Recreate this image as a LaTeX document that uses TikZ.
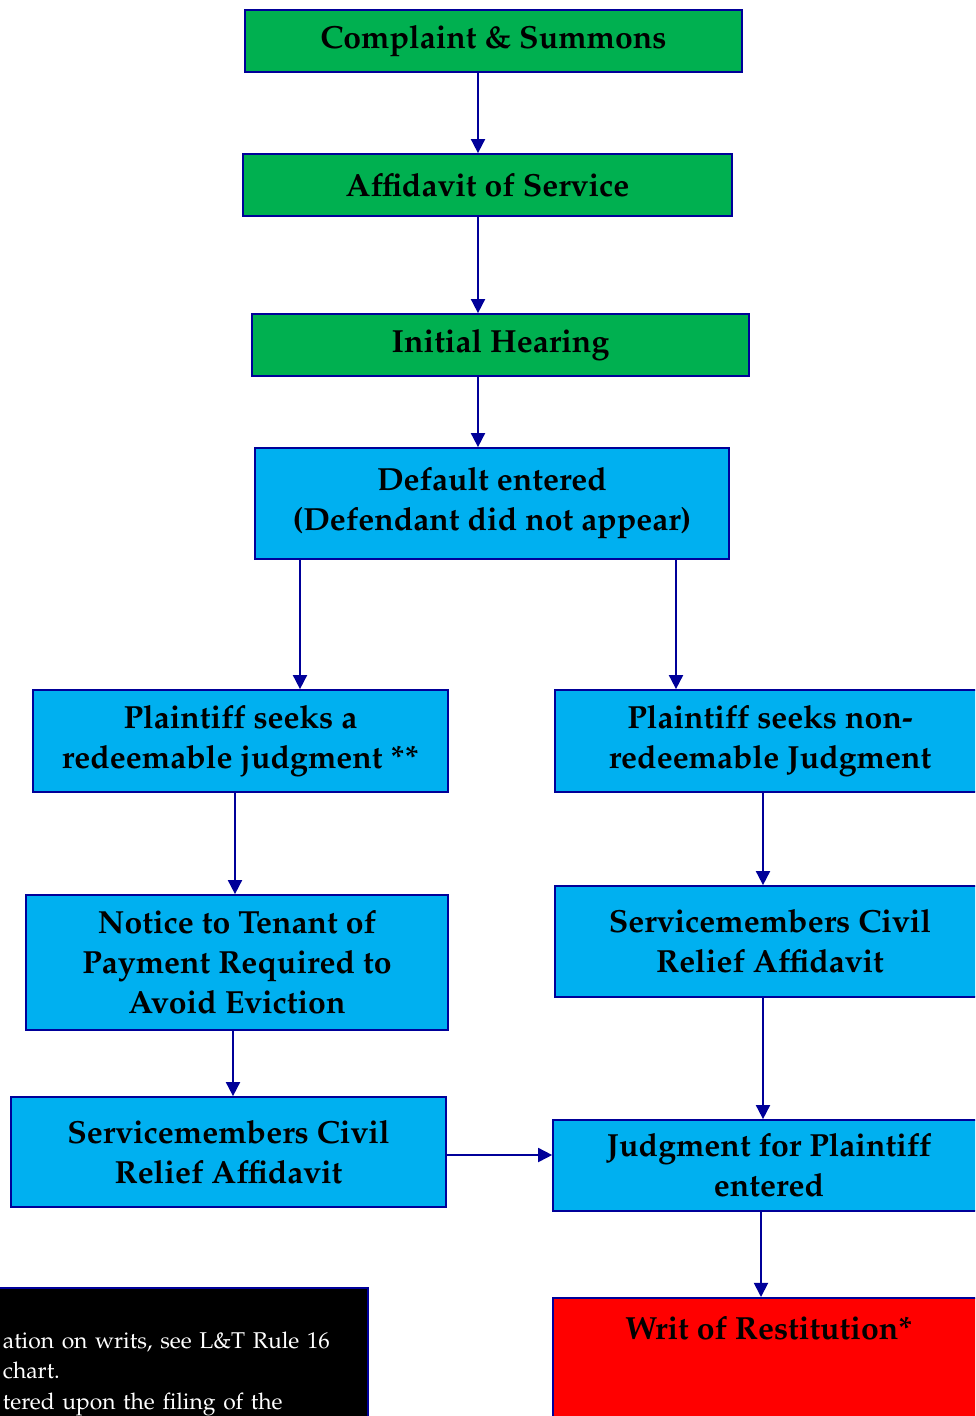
\documentclass[tikz,border=0pt]{standalone}
\usepackage[T1]{fontenc}
\usepackage{mathpazo}
\usepackage{xcolor}
\usetikzlibrary{arrows.meta}

\definecolor{traitbleu}{RGB}{0,0,153}
\definecolor{etapevert}{RGB}{0,176,80}
\definecolor{etapebleu}{RGB}{0,176,240}
\definecolor{etaperouge}{RGB}{255,0,0}

\begin{document}
\begin{tikzpicture}[x=0.02cm,y=-0.02cm]

\tikzset{
    box/.style = {
    draw=traitbleu,
    line width=1pt,
    align=center,
    inner sep=0pt,
    font=\fontsize{18.2}{22.8}\selectfont\bfseries
    }
}

\tikzstyle{vert}=[box, fill=etapevert]
\tikzstyle{bleu}=[box, fill=etapebleu]
\tikzstyle{rouge}=[box, fill=etaperouge]
\tikzstyle{fleche}=[traitbleu, line width=1pt, -{Triangle[length=8pt, width=8pt]}]

\useasboundingbox (0,0) rectangle (975,1416);
\clip (0,0) rectangle (975,1416);

% etapes communes
\node (cs) [vert, minimum width=9.94cm, minimum height=1.24cm] at (493.5,41) {Complaint \& Summons};
\node (as) [vert, minimum width=9.78cm, minimum height=1.24cm] at (487.5,185) {Affidavit of Service};
\node (ih) [vert, minimum width=9.94cm, minimum height=1.24cm] at (500.5,345) {Initial Hearing};
\node (de) [bleu, minimum width=9.48cm, minimum height=2.22cm] at (492,503.5) {Default entered\\(Defendant did not appear)};

% branche gauche
\node (rj) [bleu, minimum width=8.3cm, minimum height=2.04cm] at (240.5,741) {Plaintiff seeks a\\redeemable judgment **};
\node (nt) [bleu, minimum width=8.44cm, minimum height=2.7cm] at (237,962.5) {Notice to Tenant of\\Payment Required to\\Avoid Eviction};
\node (scl) [bleu, minimum width=8.7cm, minimum height=2.2cm] at (228.5,1152) {Servicemembers Civil\\Relief Affidavit};

% branche droite
\node (nr) [bleu, minimum width=8.6cm, minimum height=2.04cm] at (770,741) {Plaintiff seeks non-\\redeemable Judgment};
\node (scr) [bleu, minimum width=8.6cm, minimum height=2.22cm] at (770,941.5) {Servicemembers Civil\\Relief Affidavit};
\node (jp) [bleu, minimum width=8.64cm, minimum height=1.82cm] at (769,1165.5) {Judgment for Plaintiff\\entered};
\node (wr) [rouge, anchor=north, minimum width=8.64cm, text height=0.5cm, text depth=3cm, inner ysep=0.34cm] at (769,1297) {Writ of Restitution*};

% note
\node (note) [draw=traitbleu, line width=1pt, fill=black, text=white, anchor=north west, text width=7.16cm, align=left, inner xsep=0.14cm, inner ysep=0.88cm, font=\fontsize{13}{17.4}\selectfont] at (-5,1287) {ation on writs, see L\&T Rule 16\\chart.\\tered upon the filing of the};

\draw[fleche] (cs.south -| 478,0) -- (as.north -| 478,0);
\draw[fleche] (as.south -| 478,0) -- (ih.north -| 478,0);
\draw[fleche] (ih.south -| 478,0) -- (de.north -| 478,0);
\draw[fleche] (de.south -| 300,0) -- (rj.north -| 300,0);
\draw[fleche] (de.south -| 676,0) -- (nr.north -| 676,0);
\draw[fleche] (rj.south -| 235,0) -- (nt.north -| 235,0);
\draw[fleche] (nt.south -| 233,0) -- (scl.north -| 233,0);
\draw[fleche] (nr.south -| 763,0) -- (scr.north -| 763,0);
\draw[fleche] (scr.south -| 763,0) -- (jp.north -| 763,0);
\draw[fleche] (scl.east |- 0,1155) -- (jp.west |- 0,1155);
\draw[fleche] (jp.south -| 761,0) -- (wr.north -| 761,0);

\end{tikzpicture}
\end{document}
